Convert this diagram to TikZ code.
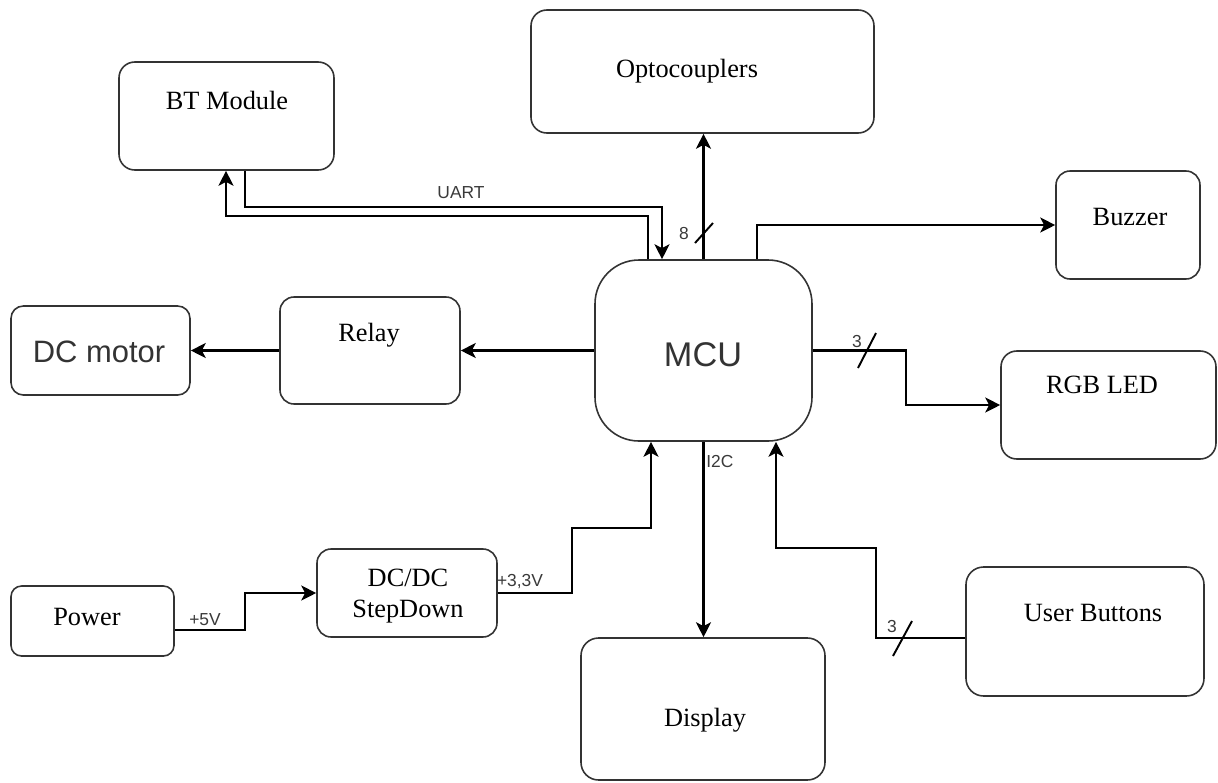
\documentclass[tikz,border=0pt]{standalone}
\usepackage{fontspec}
\setmainfont{Liberation Serif}
\newfontfamily\arialfont{Liberation Sans}
\usetikzlibrary{arrows.meta,calc}
\definecolor{edge}{HTML}{333333}
\definecolor{lbl}{HTML}{3A3A3A}
\tikzset{
  blk/.style={draw=edge, line width=0.9pt, fill=white, inner sep=0pt},
  wire/.style={line width=1.2pt, draw=black},
  arr/.style={wire, -{Stealth[length=8.5pt,width=8.5pt,inset=2.2pt]}},
  ttl/.style={font=\fontsize{15}{17.5}\selectfont, align=center, inner sep=0pt},
  big/.style={font=\arialfont\fontsize{17.6}{20}\selectfont, text=edge, inner sep=0pt},
  sig/.style={font=\arialfont\fontsize{9.9}{12}\selectfont, text=lbl, inner sep=0pt},
  tick/.style={line width=1.1pt}
}
% block: name, x1, y1, x2, y2 (pixel grid), corner radius
\newcommand\blockat[6]{%
  \node[blk, rounded corners=#6, minimum width={(#4-#2)*0.02cm},
        minimum height={(#5-#3)*0.02cm}] (#1) at ({(#2+#4)/2},{(#3+#5)/2}) {};}
\begin{document}
\begin{tikzpicture}[x=0.02cm, y=-0.02cm]
  \useasboundingbox (0,0) rectangle (1218,782);

  % blocks
  \blockat{bt}{119}{62}{334}{170}{9pt}
  \blockat{opto}{531}{10}{874}{133}{9pt}
  \blockat{buzzer}{1056}{171}{1200}{279}{8pt}
  \blockat{motor}{11}{306}{190}{395}{7pt}
  \blockat{relay}{280}{297}{460}{404}{8pt}
  \blockat{mcu}{595}{260}{812}{441}{25pt}
  \blockat{rgb}{1001}{351}{1216}{459}{9pt}
  \blockat{power}{11}{586}{174}{656}{6pt}
  \blockat{dcdc}{317}{549}{497}{637}{8pt}
  \blockat{display}{581}{638}{825}{780}{10pt}
  \blockat{ub}{966}{567}{1204}{696}{10pt}

  % block titles
  \node[ttl] (btT) at (227,100) {BT Module};
  \node[ttl] (optoT) at (687,71) {Optocouplers};
  \node[ttl] (buzzerT) at (1130,217) {Buzzer};
  \node[big] (motorT) at (99,352) {DC motor};
  \node[ttl] (relayT) at (369,335) {Relay};
  \node[big, font=\arialfont\fontsize{19.5}{22}\selectfont] (mcuT) at (703,355) {MCU};
  \node[ttl] (rgbT) at (1102,385) {RGB LED};
  \node[ttl] (powerT) at (87,617) {Power};
  \node[ttl] (dcdcT) at (408,596) {DC/DC\\StepDown};
  \node[ttl] (displayT) at (705,720) {Display};
  \node[ttl] (ubT) at (1093,613) {User Buttons};

  % route points
  \coordinate (u1) at (245,207);
  \coordinate (u2) at (662,207);
  \coordinate (w1) at (648,216);
  \coordinate (w2) at (226,216);
  \coordinate (z1) at (757,225);
  \coordinate (r1) at (906,351);
  \coordinate (p1) at (245,630);
  \coordinate (d2) at (572,528);
  \coordinate (d3) at (651,528);
  \coordinate (k1) at (876,638);
  \coordinate (k2) at (876,548);
  \coordinate (k3) at (776,548);

  % connections
  \draw[arr] (bt.south -| u1) -- (u1) -- (u2) -- (mcu.north -| u2);
  \draw[arr] (mcu.north -| w1) -- (w1) -- (w2) -- (bt.south -| w2);
  \draw[arr] (mcu.north) -- (mcu.north |- opto.south);
  \draw[arr] (mcu.north -| z1) |- (buzzer.west);
  \draw[arr] (mcu.west) -- (relay.east);
  \draw[arr] (relay.west) -- (motor.east);
  \draw[arr] (mcu.east) -- (mcu.east -| r1) |- (rgb.west);
  \draw[arr] (mcu.south) -- (mcu.south |- display.north);
  \draw[arr] (power.east |- p1) -- (p1) |- (dcdc.west);
  \draw[arr] (dcdc.east) -| (d2) -- (d3) -- (mcu.south -| d3);
  \draw[arr] (ub.west |- k1) -- (k1) -- (k2) -- (k3) -- (mcu.south -| k3);

  % bus width marks
  \draw[tick] (695,243) -- (713,223);
  \draw[tick] (858,368) -- (876,333);
  \draw[tick] (893,656) -- (912,621);

  % signal labels
  \node[sig] (uartL) at (461,193) {UART};
  \node[sig] (optoN) at (684,234) {8};
  \node[sig] (rgbN) at (857,342) {3};
  \node[sig, anchor=west] (i2cL) at (706,462) {I2C};
  \node[sig] (v5L) at (205,620) {+5V};
  \node[sig] (v33L) at (520,582) {+3,3V};
  \node[sig] (ubN) at (892,627) {3};
\end{tikzpicture}
\end{document}
